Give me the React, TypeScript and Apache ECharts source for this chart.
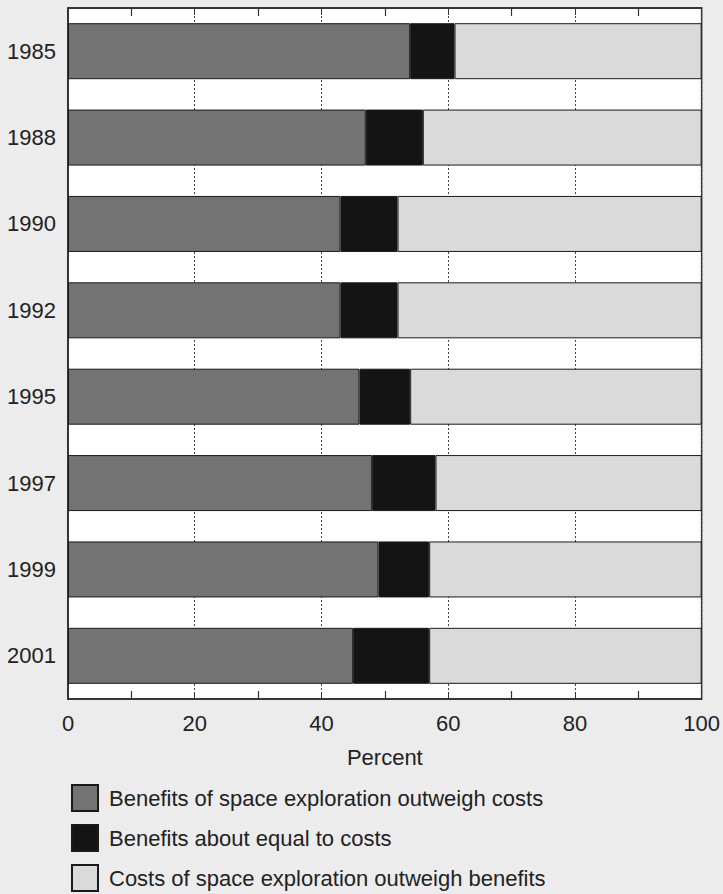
import React, { useEffect, useRef } from "react";
import * as echarts from "echarts";

const years = ["1985", "1988", "1990", "1992", "1995", "1997", "1999", "2001"];
const outweighBenefits = [54, 47, 43, 43, 46, 48, 49, 45];
const aboutEqual = [7, 9, 9, 9, 8, 10, 8, 12];
const outweighCosts = [39, 44, 48, 48, 46, 42, 43, 43];
const seriesNames = [
  "Benefits of space exploration outweigh costs",
  "Benefits about equal to costs",
  "Costs of space exploration outweigh benefits",
];
const seriesColors = ["#737373", "#141414", "#dadada"];
const xTicks = [0, 20, 40, 60, 80, 100];

const FONT = "'Liberation Sans', Arial, Helvetica, sans-serif";

export default function App() {
  const ref = useRef<HTMLDivElement>(null);
  useEffect(() => {
    if (!ref.current) return;
    const chart = echarts.init(ref.current, undefined, { renderer: "svg" });
    const values = [outweighBenefits, aboutEqual, outweighCosts];
    const tickMin = xTicks[0];
    const tickMax = xTicks[xTicks.length - 1];
    const tickInterval = xTicks[1] - xTicks[0];
    const axisCommon = {
      type: "value" as const,
      min: tickMin,
      max: tickMax,
      interval: tickInterval,
    };
    chart.setOption({
      animation: false,
      backgroundColor: "#ececec",
      textStyle: { fontFamily: FONT },
      grid: {
        left: 68,
        right: 19,
        top: 8,
        bottom: 195,
        show: true,
        backgroundColor: "#ffffff",
        borderColor: "#2a2a2a",
        borderWidth: 1.5,
      },
      legend: {
        orient: "vertical",
        left: 71,
        top: 784,
        itemWidth: 26,
        itemHeight: 26,
        itemGap: 12,
        padding: 0,
        selectedMode: false,
        icon: "rect",
        data: seriesNames,
        textStyle: {
          fontSize: 22,
          color: "#222",
          fontFamily: FONT,
          padding: [0, 0, 0, 6],
        },
      },
      xAxis: [
        {
          ...axisCommon,
          position: "bottom",
          name: "Percent",
          nameLocation: "middle",
          nameGap: 47,
          nameTextStyle: { fontSize: 22, color: "#222", fontFamily: FONT },
          axisLine: { show: true, lineStyle: { color: "#2a2a2a", width: 1.5 } },
          axisTick: { show: true, inside: true, length: 7, lineStyle: { color: "#333" } },
          minorTick: { show: true, splitNumber: 2, length: 8, lineStyle: { color: "#333", width: 1.2 } },
          axisLabel: { fontSize: 22, color: "#222", margin: 13, fontFamily: FONT },
          splitLine: { show: true, lineStyle: { color: "#444", type: [2, 2], width: 1 } },
        },
        {
          ...axisCommon,
          position: "top",
          axisLine: { show: true, lineStyle: { color: "#2a2a2a", width: 1.5 } },
          axisTick: { show: true, inside: true, length: 7, lineStyle: { color: "#333" } },
          minorTick: { show: true, splitNumber: 2, length: 8, lineStyle: { color: "#333", width: 1.2 } },
          axisLabel: { show: false },
          splitLine: { show: false },
        },
      ],
      yAxis: {
        type: "category",
        data: years,
        inverse: true,
        axisLine: { show: true, lineStyle: { color: "#2a2a2a", width: 1.5 } },
        axisTick: { show: false },
        axisLabel: { fontSize: 22, color: "#222", margin: 12, fontFamily: FONT },
      },
      series: seriesNames.map((name, i) => ({
        name,
        type: "bar",
        stack: "total",
        xAxisIndex: 0,
        barWidth: 56,
        data: values[i],
        itemStyle: {
          color: seriesColors[i],
          borderColor: "#1a1a1a",
          borderWidth: 1,
        },
      })),
    });
    return () => chart.dispose();
  }, []);
  return (
    <div
      ref={ref}
      style={{ position: "fixed", left: 0, top: 0, width: 723, height: 894 }}
    />
  );
}
